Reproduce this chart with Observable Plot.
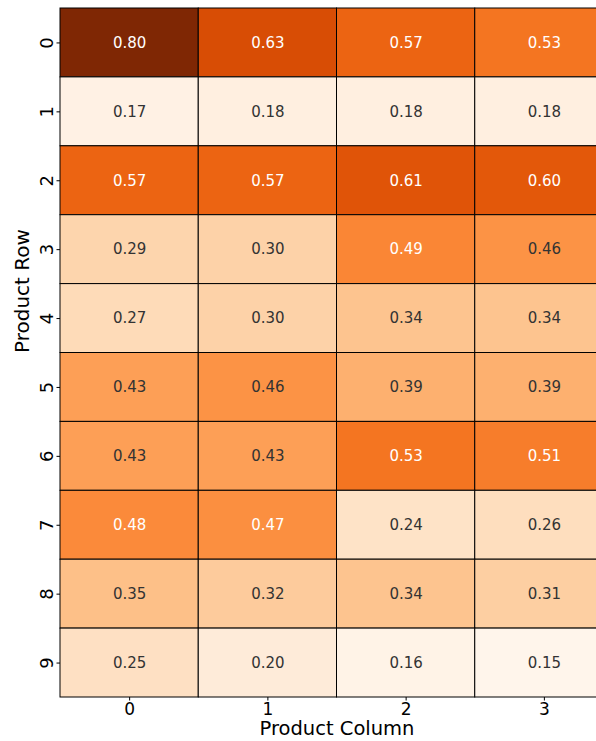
<!DOCTYPE html>
<html>
<head>
<meta charset="utf-8">
<script src="https://cdn.jsdelivr.net/npm/d3@7"></script>
<script src="https://cdn.jsdelivr.net/npm/@observablehq/plot@0.6"></script>
<style>
  html, body { margin: 0; padding: 0; background: #fff; overflow: hidden; }
  #chart { width: 596px; height: 741px; overflow: hidden; }
  svg { font-family: "DejaVu Sans", sans-serif; max-width: none !important; }
</style>
</head>
<body>
<div id="chart"></div>
<script>
const rows = ["0","1","2","3","4","5","6","7","8","9"];
const cols = ["0","1","2","3"];
const values = [
  [0.80, 0.63, 0.57, 0.53],
  [0.17, 0.18, 0.18, 0.18],
  [0.57, 0.57, 0.61, 0.60],
  [0.29, 0.30, 0.49, 0.46],
  [0.27, 0.30, 0.34, 0.34],
  [0.43, 0.46, 0.39, 0.39],
  [0.43, 0.43, 0.53, 0.51],
  [0.48, 0.47, 0.24, 0.26],
  [0.35, 0.32, 0.34, 0.31],
  [0.25, 0.20, 0.16, 0.15]
];
const xLabel = "Product Column";
const yLabel = "Product Row";

const data = [];
rows.forEach((r, i) => cols.forEach((c, j) => data.push({row: r, col: c, value: values[i][j]})));
const vmin = d3.min(data, d => d.value), vmax = d3.max(data, d => d.value);

const chart = Plot.plot({
  width: 613,
  height: 741,
  marginLeft: 60,
  marginRight: 0,
  marginTop: 8,
  marginBottom: 44,
  style: {maxWidth: "none", fontFamily: "DejaVu Sans, sans-serif"},
  x: {domain: cols, padding: 0, round: false, label: null},
  y: {domain: rows, padding: 0, round: false, label: null},
  color: {type: "linear", scheme: "oranges", domain: [vmin, vmax]},
  marks: [
    Plot.cell(data, {x: "col", y: "row", fill: "value", stroke: "black", strokeWidth: 1, inset: 0}),
    Plot.text(data, {
      x: "col", y: "row",
      text: d => d.value.toFixed(2),
      fill: d => d.value > 0.465 ? "white" : "#333333",
      fontSize: 15
    }),
    Plot.axisX({tickSize: 3.5, tickPadding: 1.5, fontSize: 17, label: null}),
    Plot.axisY({tickSize: 3.5, tickPadding: 4, fontSize: 18, tickRotate: -90, label: null}),
    Plot.text([xLabel], {text: d => d, frameAnchor: "bottom", dy: 37, fontSize: 19.5, fill: "black"}),
    Plot.text([yLabel], {text: d => d, frameAnchor: "left", dx: -38, rotate: -90, fontSize: 20, fill: "black"})
  ]
});
document.getElementById("chart").append(chart);
</script>
</body>
</html>
